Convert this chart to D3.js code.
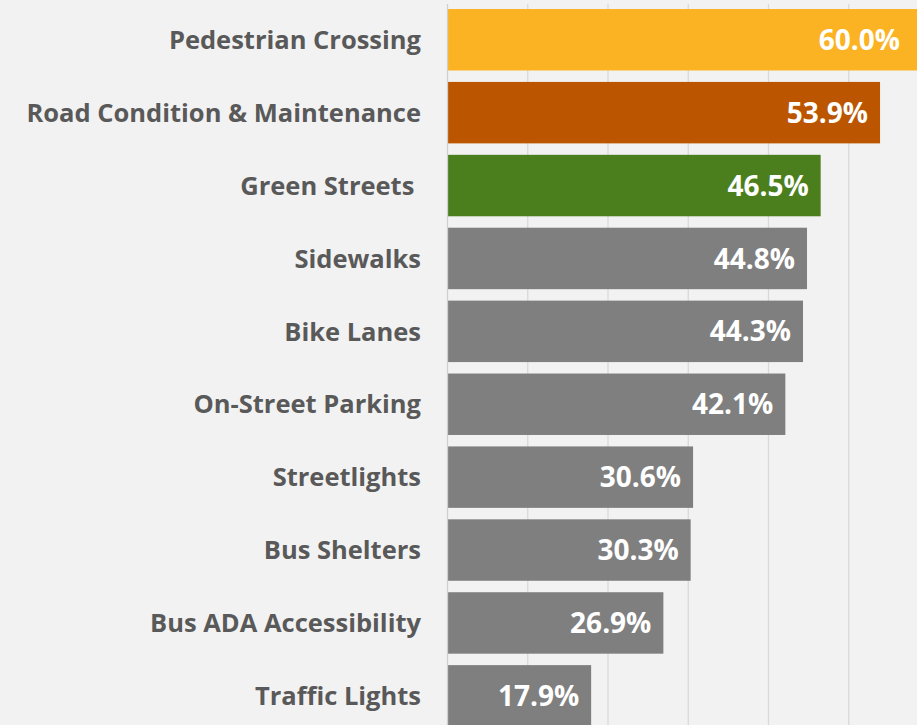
<!DOCTYPE html>
<html>
<head>
<meta charset="utf-8">
<script src="https://cdnjs.cloudflare.com/ajax/libs/d3/7.8.5/d3.min.js"></script>
<style>
  body { margin: 0; background: #f2f2f2; overflow: hidden; }
  svg { display: block; font-family: "Open Sans", "Lato", sans-serif; font-weight: bold; }
  .cat { white-space: pre; }
</style>
</head>
<body>
<svg width="917" height="725"></svg>
<script>
// survey results, top to bottom
var categories = ["Pedestrian Crossing", "Road Condition & Maintenance", "Green Streets ",
  "Sidewalks", "Bike Lanes", "On-Street Parking", "Streetlights", "Bus Shelters",
  "Bus ADA Accessibility", "Traffic Lights"];
var values = [60.0, 53.9, 46.5, 44.8, 44.3, 42.1, 30.6, 30.3, 26.9, 17.9];
var barColors = ["#fbb323", "#bb5500", "#4b7f1e", "#7f7f7f", "#7f7f7f", "#7f7f7f",
  "#7f7f7f", "#7f7f7f", "#7f7f7f", "#7f7f7f"];
var gridTicks = [10, 20, 30, 40, 50, 60];

var svg = d3.select("svg");

var x = d3.scaleLinear().domain([0, 60]).range([447.5, 929]);
var y = d3.scaleBand().domain(categories).range([3.3, 732.3])
  .paddingInner(0.157).paddingOuter(0.0785);

// gridlines
svg.append("g").selectAll("line")
  .data(gridTicks)
  .enter().append("line")
  .attr("x1", function(d) { return x(d); })
  .attr("x2", function(d) { return x(d); })
  .attr("y1", 4).attr("y2", 725)
  .attr("stroke", "#d9d9d9")
  .attr("stroke-width", 1.3);

var rows = svg.append("g").selectAll("g")
  .data(categories)
  .enter().append("g");

rows.append("rect")
  .attr("x", x(0))
  .attr("y", function(d) { return y(d); })
  .attr("width", function(d, i) { return x(values[i]) - x(0); })
  .attr("height", y.bandwidth())
  .attr("fill", function(d, i) { return barColors[i]; });

// value labels, kept inside the visible area
rows.append("text")
  .attr("x", function(d, i) { return Math.min(x(values[i]) - 12, 900); })
  .attr("y", function(d) { return y(d) + y.bandwidth() / 2; })
  .attr("dy", "0.36em")
  .attr("text-anchor", "end")
  .attr("fill", "#ffffff")
  .attr("font-size", 28)
  .text(function(d, i) { return values[i].toFixed(1) + "%"; });

// category labels
rows.append("text")
  .attr("class", "cat")
  .attr("x", 421)
  .attr("y", function(d) { return y(d) + y.bandwidth() / 2; })
  .attr("dy", "0.36em")
  .attr("text-anchor", "end")
  .attr("fill", "#595959")
  .attr("font-size", 25.5)
  .text(function(d) { return d; });

// axis line
svg.append("line")
  .attr("x1", x(0)).attr("x2", x(0))
  .attr("y1", 4).attr("y2", 725)
  .attr("stroke", "#d0d0d0")
  .attr("stroke-width", 1.3);
</script>
</body>
</html>
